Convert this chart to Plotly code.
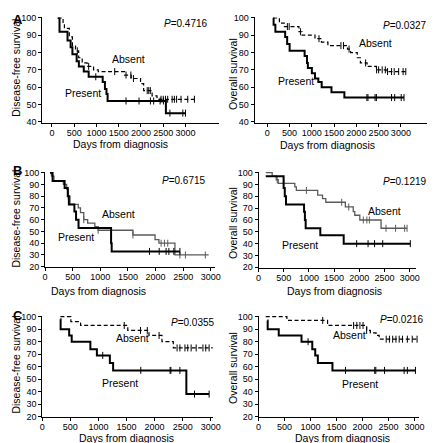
import numpy as np
import plotly.graph_objects as go

W, H = 435, 443

# ---------------- data (days, survival %) ----------------
# Panel A - disease-free survival
a_dfs_pres_t = [130, 170, 350, 420, 460, 555, 605, 715, 825, 1140, 1190, 1225, 1250, 2560, 3010]
a_dfs_pres_s = [100, 92, 87, 83, 79, 75, 72, 69, 66, 63, 59, 56, 52, 45, 45]
a_dfs_pres_c = [985, 1664, 1956, 2212, 2285, 2430, 2504, 2650, 2940, 3000]
a_dfs_abs_t = [130, 250, 280, 390, 460, 530, 600, 680, 790, 935, 1040, 1630, 1780, 1990, 2060, 2250, 2360, 3250]
a_dfs_abs_s = [100, 97, 94, 89, 84, 81, 77, 74, 72, 70, 69, 67, 65, 62, 58, 55, 53, 53]
a_dfs_abs_c = [570, 825, 1410, 1664, 1773, 1830, 2140, 2175, 2210, 2450, 2500, 2550, 2600, 2700, 2750, 2800, 2900, 3050, 3200]
# Panel A - overall survival
a_os_pres_t = [130, 140, 180, 400, 445, 500, 837, 890, 910, 1000, 1070, 1145, 1220, 1440, 1730, 3070]
a_os_pres_s = [100, 96, 92, 89, 85, 81, 78, 74, 71, 68, 65, 63, 60, 57, 54, 54]
a_os_pres_c = [2236, 2260, 2420, 2450, 2790, 2860, 3007, 3070]
a_os_abs_t = [130, 270, 380, 710, 780, 1070, 1215, 1360, 1800, 1870, 2020, 2090, 2240, 2450, 2670, 3110]
a_os_abs_s = [100, 97, 95, 92, 90, 88, 86, 84, 82, 80, 77, 74, 72, 70, 69, 69]
a_os_abs_c = [450, 490, 743, 1160, 1653, 1711, 1835, 2207, 2454, 2500, 2580, 2650, 2700, 2790, 2850, 2950, 3050, 3110]
# Panel B - disease-free survival
b_dfs_pres_t = [88, 135, 353, 410, 430, 530, 560, 605, 1194, 1205, 2440]
b_dfs_pres_s = [100, 93, 87, 80, 73, 67, 60, 53, 40, 33, 33]
b_dfs_pres_c = [1890, 2065, 2190, 2240, 2330, 2440]
b_dfs_abs_t = [88, 115, 160, 330, 390, 420, 450, 600, 640, 700, 770, 900, 960, 1590, 1990, 2060, 2350, 2960]
b_dfs_abs_s = [100, 97, 93, 90, 86, 80, 73, 70, 66, 60, 57, 54, 51, 47, 43, 40, 30, 30]
b_dfs_abs_c = [420, 700, 960, 1590, 2100, 2160, 2220, 2440, 2540, 2900]
# Panel B - overall survival
b_os_pres_t = [142, 497, 520, 545, 903, 920, 935, 1226, 1690, 3013]
b_os_pres_s = [97, 87, 80, 73, 67, 60, 53, 47, 40, 40]
b_os_pres_c = [1948, 2174, 2303, 2465, 3013]
b_os_abs_t = [142, 270, 350, 390, 720, 750, 1174, 1270, 1335, 1723, 1880, 1910, 2010, 2432, 2948]
b_os_abs_s = [100, 97, 94, 91, 88, 85, 81, 78, 75, 71, 67, 64, 60, 53, 53]
b_os_abs_c = [370, 500, 950, 1650, 1790, 2080, 2150, 2200, 2530, 2720, 2900, 2948]
# Panel C - disease-free survival
c_dfs_pres_t = [324, 328, 480, 525, 857, 973, 1204, 1262, 2565, 2970]
c_dfs_pres_s = [98, 90, 85, 80, 74, 69, 63, 57, 38, 38]
c_dfs_pres_c = [1077, 1754, 2276, 2290, 2450, 2710, 2970]
c_dfs_abs_t = [324, 510, 683, 1523, 1900, 2131, 2333, 3057]
c_dfs_abs_s = [100, 96, 93, 89, 85, 80, 75, 75]
c_dfs_abs_c = [1460, 1750, 1870, 2080, 2400, 2450, 2540, 2590, 2650, 2740, 2860, 2910, 2970]
# Panel C - overall survival
c_os_pres_t = [169, 175, 388, 826, 1033, 1090, 1140, 1421, 3018]
c_os_pres_s = [97, 90, 85, 80, 74, 69, 63, 57, 57]
c_os_pres_c = [952, 1672, 2235, 2255, 2423, 2800, 2862, 3018]
c_os_abs_t = [138, 545, 1327, 2079, 2150, 2260, 2320, 3080]
c_os_abs_s = [100, 97, 93, 89, 87, 85, 82, 82]
c_os_abs_c = [1234, 1828, 1890, 1950, 2010, 2079, 2455, 2517, 2580, 2643, 2705, 2768, 2862, 2956, 3049]

p_values = ["0.4716", "0.0327", "0.6715", "0.1219", "0.0355", "0.0216"]
x_ticks = [0, 500, 1000, 1500, 2000, 2500, 3000]

FONT = "Liberation Sans, Arial, sans-serif"

def py(y):
    return 1 - y / H

def pxx(x):
    return x / W

fig = go.Figure()

panels = [
    dict(xd=(32, 213), xr=(-219, 3744), yd=(113.3, 5.5), yr=(39.3, 100.3), yt=list(range(40, 101, 10))),
    dict(xd=(250, 428), xr=(-285, 3613), yd=(113.3, 5.5), yr=(39.3, 100.3), yt=list(range(40, 101, 10))),
    dict(xd=(35, 209), xr=(0, 3070), yd=(260.6, 163.4), yr=(19.5, 100.5), yt=list(range(20, 101, 10))),
    dict(xd=(254, 415), xr=(0, 3116), yd=(261.2, 163.4), yr=(19.5, 100.5), yt=list(range(20, 101, 10))),
    dict(xd=(32, 207), xr=(0, 3035), yd=(413.6, 310.4), yr=(19.5, 100.5), yt=list(range(20, 101, 10))),
    dict(xd=(254, 419), xr=(0, 3094), yd=(413.6, 310.4), yr=(19.5, 100.5), yt=list(range(20, 101, 10))),
]

curves = [
    (a_dfs_pres_t, a_dfs_pres_s, a_dfs_pres_c, a_dfs_abs_t, a_dfs_abs_s, a_dfs_abs_c, "dash"),
    (a_os_pres_t, a_os_pres_s, a_os_pres_c, a_os_abs_t, a_os_abs_s, a_os_abs_c, "dash"),
    (b_dfs_pres_t, b_dfs_pres_s, b_dfs_pres_c, b_dfs_abs_t, b_dfs_abs_s, b_dfs_abs_c, "gray"),
    (b_os_pres_t, b_os_pres_s, b_os_pres_c, b_os_abs_t, b_os_abs_s, b_os_abs_c, "gray"),
    (c_dfs_pres_t, c_dfs_pres_s, c_dfs_pres_c, c_dfs_abs_t, c_dfs_abs_s, c_dfs_abs_c, "dash"),
    (c_os_pres_t, c_os_pres_s, c_os_pres_c, c_os_abs_t, c_os_abs_s, c_os_abs_c, "dash"),
]

def step_at(t, s, c):
    t = np.asarray(t); s = np.asarray(s)
    idx = np.searchsorted(t, np.asarray(c), side="right") - 1
    idx = np.clip(idx, 0, len(s) - 1)
    return s[idx]

layout = {}
for i, (p, cv) in enumerate(zip(panels, curves), start=1):
    xa = "x" if i == 1 else f"x{i}"
    ya = "y" if i == 1 else f"y{i}"
    pt, ps, pc, at, as_, ac, style = cv
    if style == "dash":
        abs_line = dict(color="black", width=1.2, dash="4px,2.5px", shape="hv")
        abs_col = "black"
    else:
        abs_line = dict(color="#5a5a5a", width=1.3, shape="hv")
        abs_col = "#5a5a5a"
    fig.add_trace(go.Scatter(x=at, y=as_, mode="lines", line=abs_line, xaxis=xa, yaxis=ya,
                             showlegend=False, hoverinfo="skip"))
    fig.add_trace(go.Scatter(x=ac, y=step_at(at, as_, ac), mode="markers", xaxis=xa, yaxis=ya,
                             marker=dict(symbol="line-ns", size=5, line=dict(width=1, color=abs_col)),
                             showlegend=False, hoverinfo="skip"))
    fig.add_trace(go.Scatter(x=pt, y=ps, mode="lines", line=dict(color="black", width=2, shape="hv"),
                             xaxis=xa, yaxis=ya, showlegend=False, hoverinfo="skip"))
    fig.add_trace(go.Scatter(x=pc, y=step_at(pt, ps, pc), mode="markers", xaxis=xa, yaxis=ya,
                             marker=dict(symbol="line-ns", size=5, line=dict(width=1, color="black")),
                             showlegend=False, hoverinfo="skip"))
    common = dict(showgrid=False, zeroline=False, showline=True, linecolor="black", linewidth=1,
                  ticks="outside", ticklen=3, tickcolor="black", tickwidth=1, tickangle=0,
                  tickfont=dict(family=FONT, size=9, color="black"))
    layout["xaxis" if i == 1 else f"xaxis{i}"] = dict(
        domain=[pxx(p["xd"][0]), pxx(p["xd"][1])], range=list(p["xr"]), anchor=ya,
        tickvals=x_ticks, ticklabelstandoff=-2, **common)
    layout["yaxis" if i == 1 else f"yaxis{i}"] = dict(
        domain=[py(p["yd"][0]), py(p["yd"][1])], range=list(p["yr"]), anchor=xa,
        tickvals=p["yt"], **common)

fig.update_layout(**layout)

ann = []
def text(x, y, s, size=11, angle=0, xanchor="center", bold=False):
    ann.append(dict(x=pxx(x), y=py(y), xref="paper", yref="paper", text=(f"<b>{s}</b>" if bold else s),
                    showarrow=False, xanchor=xanchor, yanchor="middle", textangle=angle,
                    font=dict(family=FONT, size=size, color="black")))

# panel letters
text(0, 8, "A", size=13, xanchor="left", bold=True)
text(0, 162, "B", size=13, xanchor="left", bold=True)
text(0, 310, "C", size=13, xanchor="left", bold=True)

# P values
for (x, y), pv in zip([(180, 12), (404, 14), (178, 172), (404, 173), (187, 317), (401, 314)], p_values):
    text(x, y, f"<i>P</i>={pv}", size=10)

# group labels
for x, y in [(121, 48), (374, 32), (110, 206), (383, 203), (125, 333), (347, 330)]:
    text(x, y, "Absent", size=10.5)
for x, y in [(74, 83), (292, 70), (67, 230), (297, 238), (112, 379), (358, 380)]:
    text(x, y, "Present", size=10.5)

# axis titles
for x, y in [(112, 135), (325, 136), (90, 285), (332, 285), (118, 435), (340, 435)]:
    text(x, y, "Days from diagnosis", size=10.5)
for x, y in [(5, 57), (5, 211), (5, 360)]:
    text(x, y, "Disease-free survival", size=10.5, angle=-90)
for x, y in [(227, 63), (227, 215), (227, 363)]:
    text(x, y, "Overall survival", size=10.5, angle=-90)

fig.update_layout(width=W, height=H, margin=dict(l=0, r=0, t=0, b=0),
                  paper_bgcolor="white", plot_bgcolor="white", annotations=ann,
                  font=dict(family=FONT, color="black"))

fig.write_html("out.html", config={"displayModeBar": False})
